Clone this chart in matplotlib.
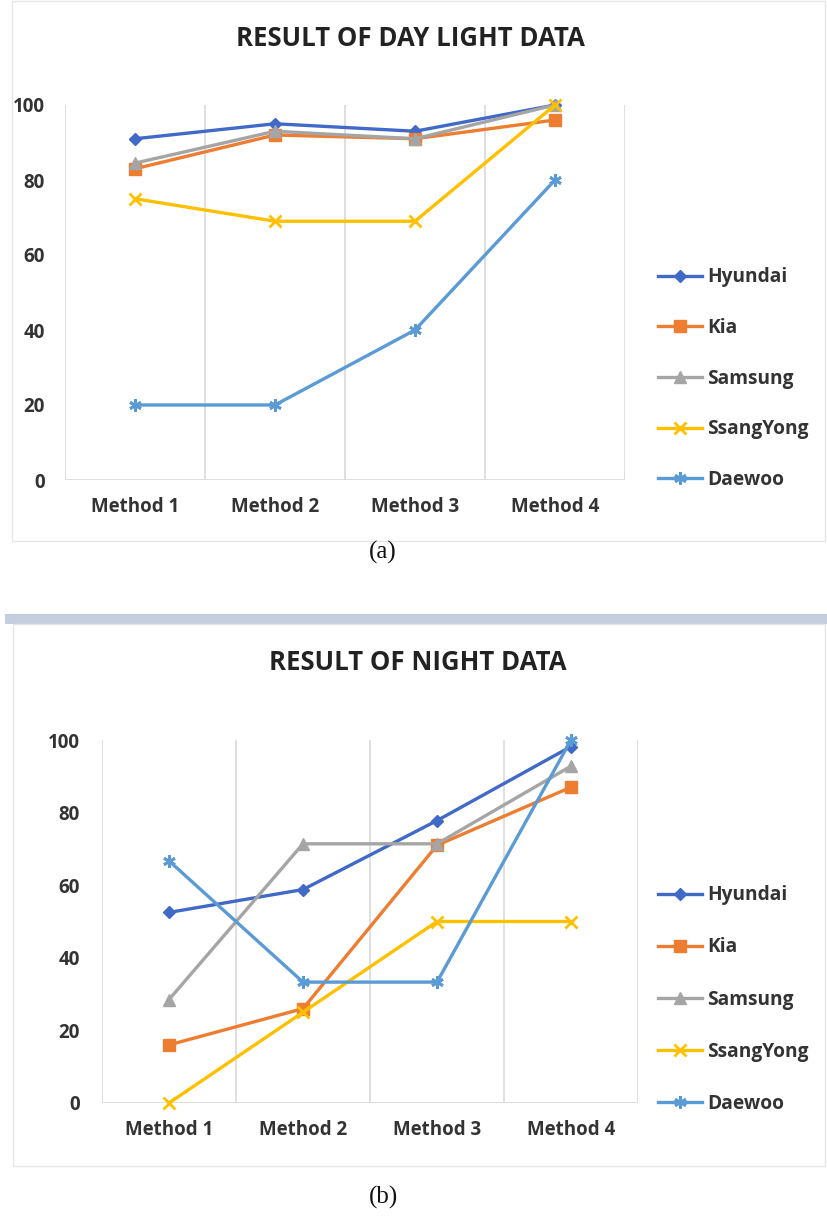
import numpy as np
import matplotlib
matplotlib.use('Agg')
import matplotlib.pyplot as plt
from matplotlib.patches import Rectangle

plt.rcParams['font.family'] = ['Open Sans', 'DejaVu Sans']

methods = ['Method 1', 'Method 2', 'Method 3', 'Method 4']
brands = ['Hyundai', 'Kia', 'Samsung', 'SsangYong', 'Daewoo']

# day light results
day_hyundai = [91, 95, 93, 100]
day_kia = [83, 92, 91, 96]
day_samsung = [84.5, 93, 91, 100]
day_ssangyong = [75, 69, 69, 100]
day_daewoo = [20, 20, 40, 80]

# night results
night_hyundai = [52.5, 58.8, 77.8, 98.2]
night_kia = [16, 26, 71, 87]
night_samsung = [28.5, 71.4, 71.4, 92.8]
night_ssangyong = [0, 25, 50, 50]
night_daewoo = [66.7, 33.3, 33.3, 100]

colors = ['#4169C8', '#ED7D31', '#A5A5A5', '#FFC000', '#5B9BD5']
markers = ['D', 's', '^', 'x', (6, 2, 0)]
msizes = [6, 8, 8, 8, 9]

W, H = 827, 1232
fig = plt.figure(figsize=(W / 100, H / 100), dpi=100)


def px_axes(left, top, right, bottom):
    return fig.add_axes([left / W, 1 - bottom / H, (right - left) / W, (bottom - top) / H])


def draw_chart(ax, series, title, title_xy, legend_xy, ylab_pad, lspace):
    x = np.arange(len(methods))
    for i, vals in enumerate(series):
        ax.plot(x, vals, color=colors[i], lw=2.4, marker=markers[i], ms=msizes[i],
                mew=2 if markers[i] in ('x',) or isinstance(markers[i], tuple) else 1,
                label=brands[i], clip_on=False, zorder=3)
    ax.set_xlim(-0.5, len(methods) - 0.5)
    ax.set_ylim(0, 100)
    ax.set_yticks([0, 20, 40, 60, 80, 100])
    ax.set_xticks(x)
    ax.set_xticklabels(methods)
    for gx in np.arange(-0.5, len(methods), 1.0):
        ax.axvline(gx, color='#D9D9D9', lw=1.2, zorder=1)
    for s in ax.spines.values():
        s.set_visible(False)
    ax.axhline(0, color='#D9D9D9', lw=1.2, zorder=1)
    ax.tick_params(length=0, labelsize=13.5, labelcolor='#333333')
    ax.tick_params(axis='y', pad=ylab_pad)
    ax.tick_params(axis='x', pad=12.5)
    for lab in ax.get_xticklabels() + ax.get_yticklabels():
        lab.set_fontweight('bold')
    fig.text(title_xy[0] / W, 1 - title_xy[1] / H, title, ha='center', va='center',
             fontsize=18.5, fontweight='bold', color='#222222')
    leg = ax.legend(loc='upper left', bbox_to_anchor=(legend_xy[0] / W, 1 - legend_xy[1] / H),
                    bbox_transform=fig.transFigure, frameon=False, fontsize=13.8,
                    labelspacing=lspace, handlelength=2.3, handletextpad=0.25)
    for t in leg.get_texts():
        t.set_fontweight('bold')
        t.set_color('#333333')


ax1 = px_axes(65, 105, 625, 480)
draw_chart(ax1, [day_hyundai, day_kia, day_samsung, day_ssangyong, day_daewoo],
           'RESULT OF DAY LIGHT DATA', (410, 38), (641, 250), 14.5, 1.6)

ax2 = px_axes(102, 740, 638, 1103)
draw_chart(ax2, [night_hyundai, night_kia, night_samsung, night_ssangyong, night_daewoo],
           'RESULT OF NIGHT DATA', (418, 662), (641, 868), 16, 1.68)

# panel frames and separator
fig.patches.append(Rectangle((12 / W, 1 - 541 / H), 813 / W, 540 / H, transform=fig.transFigure,
                             fill=False, ec='#E6E6E6', lw=1))
fig.patches.append(Rectangle((5 / W, 1 - 624 / H), 822 / W, 10 / H, transform=fig.transFigure,
                             fc='#C5CEDF', ec='none'))
fig.patches.append(Rectangle((13 / W, 1 - 1166 / H), 812 / W, 542 / H, transform=fig.transFigure,
                             fill=False, ec='#E6E6E6', lw=1))

fig.text(383 / W, 1 - 552 / H, '(a)', ha='center', va='center', fontsize=18,
         family=['Liberation Serif', 'DejaVu Serif'], color='#111111')
fig.text(383 / W, 1 - 1197 / H, '(b)', ha='center', va='center', fontsize=18,
         family=['Liberation Serif', 'DejaVu Serif'], color='#111111')

fig.savefig('out.png', dpi=100)
